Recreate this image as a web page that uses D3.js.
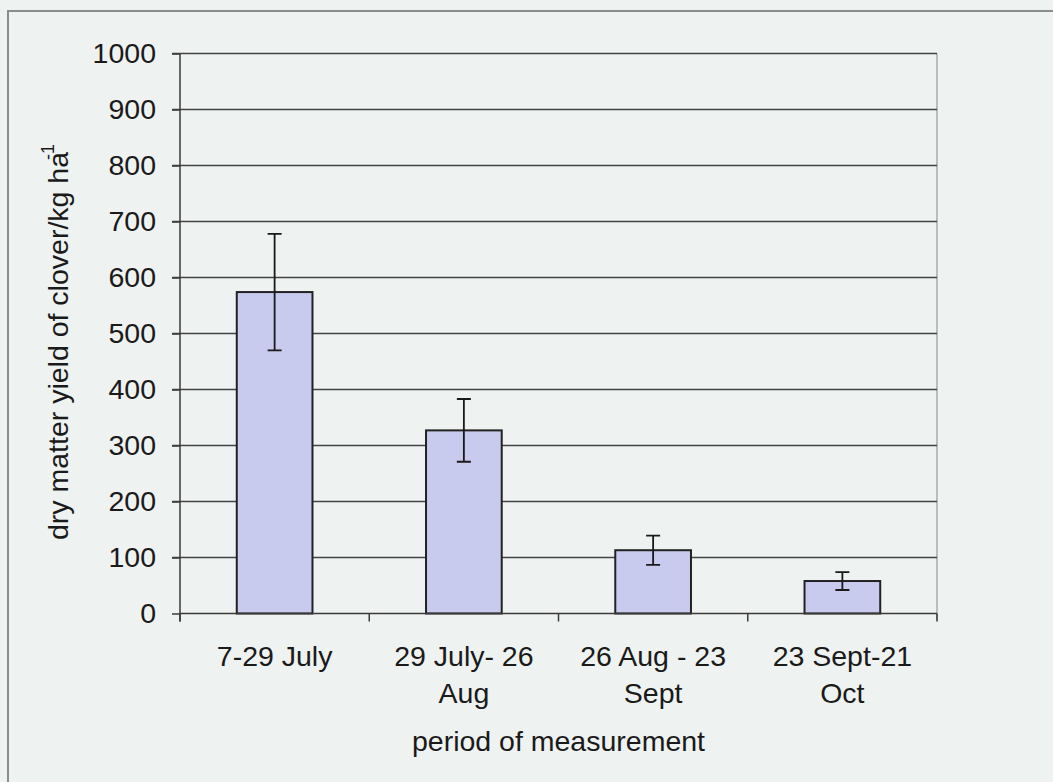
<!DOCTYPE html>
<html>
<head>
<meta charset="utf-8">
<script src="https://cdn.jsdelivr.net/npm/d3@7/dist/d3.min.js"></script>
<style>
  html, body { margin: 0; padding: 0; background: #eef2f0; }
  svg { display: block; }
  text { font-family: "Liberation Sans", Arial, sans-serif; fill: #1a1a1a; }
</style>
</head>
<body>
<svg id="chart" width="1053" height="782"></svg>
<script>
// Clover dry matter yield per measurement period, with error bars
const categories = [["7-29 July"], ["29 July- 26", "Aug"], ["26 Aug - 23", "Sept"], ["23 Sept-21", "Oct"]];
const yieldMeans = [574, 327, 113, 58];
const yieldErrors = [104, 56, 26, 16];
const yTicks = [0, 100, 200, 300, 400, 500, 600, 700, 800, 900, 1000];

const svg = d3.select("#chart");
const W = 1053, H = 782;
const plot = { left: 180, right: 937, top: 53.5, bottom: 613.5 };
const fontSize = 28.5;

// page background and outer frame
svg.append("rect").attr("x", 0).attr("y", 0).attr("width", W).attr("height", H).attr("fill", "#eef2f0");
svg.append("path")
  .attr("d", `M8,${H} L8,11 L${W},11`)
  .attr("fill", "none").attr("stroke", "#8a8c8b").attr("stroke-width", 2);

const keys = categories.map(c => c.join(" "));
const x = d3.scaleBand().domain(keys).range([plot.left, plot.right]).padding(0);
const y = d3.scaleLinear().domain([0, 1000]).range([plot.bottom, plot.top]);

// plot area right border
svg.append("line")
  .attr("x1", plot.right).attr("x2", plot.right)
  .attr("y1", plot.top).attr("y2", plot.bottom + 7)
  .attr("stroke", "#a9abaa").attr("stroke-width", 1.5);

// horizontal gridlines
svg.append("g").selectAll("line").data(yTicks.filter(t => t > 0)).join("line")
  .attr("x1", plot.left - 8).attr("x2", plot.right)
  .attr("y1", d => y(d)).attr("y2", d => y(d))
  .attr("stroke", "#444").attr("stroke-width", 1.5);

// y axis
const yAxis = svg.append("g")
  .attr("transform", `translate(${plot.left},0)`)
  .call(d3.axisLeft(y).tickValues(yTicks).tickSize(8).tickPadding(16).tickFormat(d3.format("d")));
yAxis.select(".domain").remove();
yAxis.selectAll(".tick line").attr("stroke", "#3a3a3a").attr("stroke-width", 1.5);
yAxis.selectAll(".tick text")
  .attr("font-size", fontSize).attr("font-family", "Liberation Sans, Arial, sans-serif")
  .attr("fill", "#1a1a1a");
svg.append("line")
  .attr("x1", plot.left).attr("x2", plot.left)
  .attr("y1", plot.top).attr("y2", plot.bottom + 8)
  .attr("stroke", "#3a3a3a").attr("stroke-width", 1.5);

// bars
const barW = x.bandwidth() * 0.4;
const data = keys.map((k, i) => ({ key: k, lines: categories[i], mean: yieldMeans[i], err: yieldErrors[i] }));
svg.append("g").selectAll("rect").data(data).join("rect")
  .attr("x", d => x(d.key) + x.bandwidth() / 2 - barW / 2)
  .attr("y", d => y(d.mean))
  .attr("width", barW)
  .attr("height", d => y(0) - y(d.mean))
  .attr("fill", "#c8caee")
  .attr("stroke", "#222")
  .attr("stroke-width", 2);

// x axis line and ticks at category boundaries
svg.append("line")
  .attr("x1", plot.left).attr("x2", plot.right)
  .attr("y1", y(0)).attr("y2", y(0))
  .attr("stroke", "#3a3a3a").attr("stroke-width", 1.5);
const bounds = keys.map(k => x(k)).concat([plot.right]);
svg.append("g").selectAll("line").data(bounds).join("line")
  .attr("x1", d => d).attr("x2", d => d)
  .attr("y1", y(0)).attr("y2", y(0) + 8)
  .attr("stroke", "#3a3a3a").attr("stroke-width", 1.5);

// error bars
const cap = 7;
const eb = svg.append("g").attr("stroke", "#1a1a1a").attr("stroke-width", 1.8).attr("fill", "none");
eb.selectAll("path").data(data).join("path")
  .attr("d", d => {
    const cx = x(d.key) + x.bandwidth() / 2;
    const t = y(d.mean + d.err), b = y(d.mean - d.err);
    return `M${cx},${t} L${cx},${b} M${cx - cap},${t} L${cx + cap},${t} M${cx - cap},${b} L${cx + cap},${b}`;
  });

// category labels (two lines where needed)
const lbl = svg.append("g").selectAll("text").data(data).join("text")
  .attr("text-anchor", "middle")
  .attr("font-size", fontSize)
  .attr("x", d => x(d.key) + x.bandwidth() / 2)
  .attr("y", 666);
lbl.selectAll("tspan").data(d => d.lines.map(l => ({ l, cx: x(d.key) + x.bandwidth() / 2 }))).join("tspan")
  .attr("x", d => d.cx)
  .attr("dy", (d, i) => i === 0 ? 0 : 37)
  .text(d => d.l);

// axis titles
svg.append("text")
  .attr("text-anchor", "middle")
  .attr("font-size", fontSize)
  .attr("x", (plot.left + plot.right) / 2)
  .attr("y", 751)
  .text("period of measurement");

const yt = svg.append("text")
  .attr("text-anchor", "middle")
  .attr("font-size", fontSize)
  .attr("transform", "translate(68,342) rotate(-90)");
yt.append("tspan").text("dry matter yield of clover/kg ha");
yt.append("tspan").attr("font-size", 18).attr("dx", -8).attr("dy", -14).text("-1");
</script>
</body>
</html>
